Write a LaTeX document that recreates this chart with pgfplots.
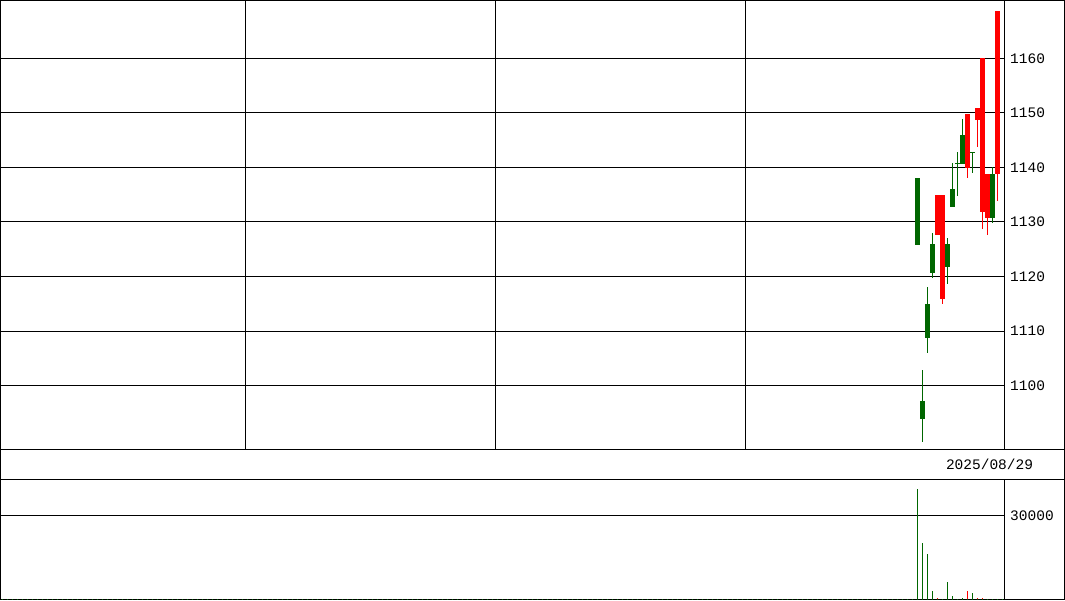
\documentclass[border=0pt]{standalone}
\usepackage{fontspec}
\setmainfont{Liberation Mono}
\usepackage{pgfplots}
\pgfplotsset{compat=1.18}
\usepackage{pgfplotstable}

\definecolor{cgreen}{RGB}{0,102,0}
\definecolor{cred}{RGB}{255,0,0}
\newcommand{\lbl}{\fontsize{14.5pt}{16pt}\selectfont}

% daily candles: x = pixel column centre, open, high, low, close
\pgfplotstableread{
x      o       h       l       c
917.5  1138.0  1138.0  1125.7  1125.7
922.5  1097.1  1102.9  1089.7  1093.8
927.5  1115.0  1118.0  1105.9  1108.8
932.5  1125.9  1127.9  1119.8  1120.7
947.5  1125.9  1127.0  1118.7  1121.8
952.5  1136.0  1140.9  1132.8  1132.8
957.5  1140.9  1142.9  1134.7  1140.7
962.5  1145.9  1149.0  1140.7  1140.7
972.5  1142.9  1142.9  1138.9  1142.7
992.5  1138.9  1140.0  1129.9  1130.8
}\greencandles

\pgfplotstableread{
x      o       h       l       c
937.5  1127.7  1134.9  1127.7  1134.9
942.5  1115.8  1134.9  1114.9  1134.9
967.5  1140.0  1149.9  1138.0  1149.9
977.5  1148.8  1151.0  1143.7  1151.0
982.5  1131.9  1160.0  1128.8  1160.0
987.5  1130.8  1138.9  1127.7  1138.9
997.5  1138.9  1168.8  1133.8  1168.8
}\redcandles

\pgfplotstableread{
x      v
917.5  39300
922.5  20100
927.5  16100
932.5  2900
947.5  6100
952.5  1100
957.5  300
962.5  700
972.5  2500
992.5  300
}\greenvol

\pgfplotstableread{
x      v
937.5  700
942.5  350
967.5  2900
977.5  600
982.5  600
987.5  350
997.5  300
}\redvol

\pgfplotsset{
  panel/.style={
    scale only axis,
    width=1004pt,
    xmin=0.5, xmax=1004.5,
    anchor=south west,
    axis line style={line width=1pt},
    grid style={black, line width=1pt},
    major tick length=0pt,
    yticklabel pos=right,
    yticklabel style={anchor=west, inner sep=0pt, xshift=5.5pt, font=\lbl},
    /pgf/number format/assume math mode=true,
    /pgf/number format/1000 sep={},
    scaled y ticks=false,
  },
  body/.style={draw=none, mark=none, forget plot,
    error bars/.cd, y dir=both, y explicit, error mark=none,
    error bar style={line width=5pt, draw=#1}},
  wick/.style={draw=none, mark=none, forget plot,
    error bars/.cd, y dir=both, y explicit, error mark=none,
    error bar style={line width=1pt, draw=#1}},
}

\begin{document}
\begin{tikzpicture}

% price panel
\begin{axis}[panel,
  at={(0.5pt,150.5pt)}, height=449pt,
  ymin=1088.257, ymax=1170.642,
  ytick={1100,1110,...,1160},
  xtick={245.5,495.5,745.5}, xticklabels={},
  xmajorgrids, ymajorgrids]
\addplot[wick=cgreen] table[x=x, y expr={(\thisrow{h}+\thisrow{l})/2},
  y error expr={(\thisrow{h}-\thisrow{l})/2}] {\greencandles};
\addplot[body=cgreen] table[x=x, y expr={(\thisrow{o}+\thisrow{c})/2},
  y error expr={abs(\thisrow{o}-\thisrow{c})/2}] {\greencandles};
\addplot[wick=cred] table[x=x, y expr={(\thisrow{h}+\thisrow{l})/2},
  y error expr={(\thisrow{h}-\thisrow{l})/2}] {\redcandles};
\addplot[body=cred] table[x=x, y expr={(\thisrow{o}+\thisrow{c})/2},
  y error expr={abs(\thisrow{o}-\thisrow{c})/2}] {\redcandles};
\end{axis}

% volume panel
\begin{axis}[panel,
  at={(0.5pt,0.5pt)}, height=120pt,
  ymin=0, ymax=42857,
  ytick={30000}, xtick=\empty,
  ymajorgrids]
\addplot[ycomb, cgreen, line width=1pt, mark=none] table[x=x, y=v] {\greenvol};
\addplot[ycomb, cred, line width=1pt, mark=none] table[x=x, y=v] {\redvol};
\end{axis}

% frame and date strip
\draw[line width=1pt] (0.5pt,0.5pt) rectangle (1064.5pt,599.5pt);
\draw[line width=1pt] (0.5pt,150.5pt) -- (1064.5pt,150.5pt);
\draw[line width=1pt] (0.5pt,120.5pt) -- (1064.5pt,120.5pt);
\draw[cgreen, line width=1pt, dash pattern=on 1pt off 4pt] (2pt,0.5pt) -- (1004pt,0.5pt);
\node[font=\lbl, inner sep=0pt] at (989.5pt,135.5pt) {2025/08/29};

\pgfresetboundingbox
\path (0pt,0pt) rectangle (1065pt,600pt);
\end{tikzpicture}
\end{document}
